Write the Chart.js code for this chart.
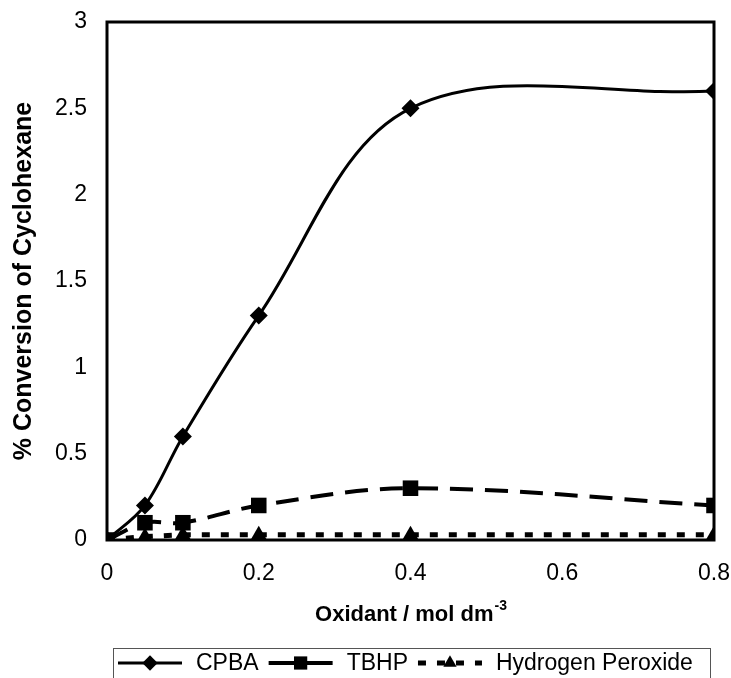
<!DOCTYPE html>
<html>
<head>
<meta charset="utf-8">
<script src="https://cdn.jsdelivr.net/npm/chart.js@4.4.1/dist/chart.umd.min.js"></script>
<style>
  html, body { margin: 0; padding: 0; background: #fff; }
  #wrap { width: 731px; height: 678px; position: relative; }
</style>
</head>
<body>
<div id="wrap"><canvas id="chart"></canvas></div>
<script>
// oxidant concentration (mol dm-3)
const oxidant = [0, 0.05, 0.1, 0.2, 0.4, 0.8];
const cpba = [0, 0.2, 0.6, 1.3, 2.5, 2.6];
const tbhp = [0, 0.1, 0.1, 0.2, 0.3, 0.2];
const peroxide = [0, 0.02, 0.03, 0.03, 0.03, 0.03];
const xTicks = [0, 0.2, 0.4, 0.6, 0.8];
const yTicks = [0, 0.5, 1, 1.5, 2, 2.5, 3];

const FONT = "'Liberation Sans', Arial, sans-serif";

function toPoints(ys) {
    return oxidant.map((x, i) => ({ x: x, y: ys[i] }));
}

const datasets = [
    { label: 'CPBA', data: toPoints(cpba), pointStyle: 'rectRot', pointRadius: 9, borderWidth: 3, borderDash: [], tension: 0.35 },
    { label: 'TBHP', data: toPoints(tbhp), pointStyle: 'rect', pointRadius: 11, borderWidth: 4, borderDash: [23, 12], tension: 0.35 },
    { label: 'Hydrogen Peroxide', data: toPoints(peroxide), pointStyle: 'triangle', pointRadius: 9, borderWidth: 5, borderDash: [8, 11], tension: 0 }
].map(d => Object.assign({
    borderColor: '#000',
    backgroundColor: '#000',
    pointBackgroundColor: '#000',
    pointBorderColor: '#000',
    pointBorderWidth: 0,
    borderCapStyle: 'butt',
    fill: false
}, d));

// black frame around the plot area
const frame = {
    id: 'frame',
    afterDatasetsDraw(chart) {
        const a = chart.chartArea, ctx = chart.ctx;
        ctx.save();
        ctx.strokeStyle = '#000';
        ctx.lineWidth = 3;
        ctx.strokeRect(a.left, a.top, a.right - a.left, a.bottom - a.top);
        ctx.restore();
    }
};

// x axis title with superscript, and the boxed legend
const extras = {
    id: 'extras',
    afterDraw(chart) {
        const ctx = chart.ctx, a = chart.chartArea;
        ctx.save();
        ctx.fillStyle = '#000';
        ctx.textBaseline = 'alphabetic';
        ctx.textAlign = 'left';
        const main = 'Oxidant / mol dm';
        ctx.font = 'bold 22px ' + FONT;
        const w1 = ctx.measureText(main).width;
        ctx.font = 'bold 14px ' + FONT;
        const w2 = ctx.measureText('-3').width;
        const x = (a.left + a.right) / 2 - (w1 + w2) / 2;
        ctx.font = 'bold 22px ' + FONT;
        ctx.fillText(main, x, 621);
        ctx.font = 'bold 14px ' + FONT;
        ctx.fillText('-3', x + w1 + 1, 610);

        // legend
        const top = 648, boxL = 113, boxR = 710;
        ctx.strokeStyle = '#555';
        ctx.lineWidth = 1;
        ctx.strokeRect(boxL + 0.5, top + 0.5, boxR - boxL, 40);
        const my = 663;
        ctx.font = '23px ' + FONT;
        ctx.textBaseline = 'middle';
        let lx = 118;
        chart.data.datasets.forEach((ds) => {
            const segW = 64;
            ctx.save();
            ctx.strokeStyle = '#000';
            ctx.lineWidth = ds.borderWidth;
            ctx.setLineDash(ds.label === 'Hydrogen Peroxide' ? [8, 11] : []);
            ctx.beginPath();
            ctx.moveTo(lx, my);
            ctx.lineTo(lx + segW, my);
            ctx.stroke();
            ctx.restore();
            Chart.helpers.drawPoint(ctx, {
                pointStyle: ds.pointStyle,
                radius: ds.pointRadius * 0.85,
                borderWidth: 0
            }, lx + segW / 2, my);
            ctx.fillText(ds.label, lx + segW + 14, my + 1);
            lx += segW + 14 + ctx.measureText(ds.label).width + 10;
        });
        ctx.restore();
    }
};

new Chart(document.getElementById('chart'), {
    type: 'line',
    data: { datasets: datasets },
    options: {
        responsive: true,
        maintainAspectRatio: false,
        animation: false,
        layout: { padding: { top: 22, right: 17, left: 0, bottom: 0 } },
        plugins: {
            legend: { display: false },
            tooltip: { enabled: false }
        },
        scales: {
            x: {
                type: 'linear',
                min: 0,
                max: 0.8,
                afterBuildTicks: s => { s.ticks = xTicks.map(v => ({ value: v })); },
                afterFit: s => {
                    s.height = 138;
                    s.paddingLeft = 0;
                    s.paddingRight = 0;
                },
                grid: { display: false, drawTicks: true, tickLength: 6, tickColor: '#999' },
                border: { display: false },
                ticks: {
                    color: '#000',
                    font: { family: FONT, size: 23 },
                    padding: 14,
                    maxRotation: 0,
                    callback: v => String(v)
                }
            },
            y: {
                min: 0,
                max: 3,
                afterBuildTicks: s => { s.ticks = yTicks.map(v => ({ value: v })); },
                afterFit: s => {
                    s.width = 107;
                    s.paddingTop = 0;
                    s.paddingBottom = 0;
                },
                grid: { display: false, drawTicks: true, tickLength: 6, tickColor: '#999' },
                border: { display: false },
                title: {
                    display: true,
                    text: '% Conversion of Cyclohexane',
                    color: '#000',
                    font: { family: FONT, size: 25, weight: 'bold' },
                    padding: { top: 9, bottom: 0 }
                },
                ticks: {
                    color: '#000',
                    font: { family: FONT, size: 23 },
                    padding: 14,
                    callback: v => String(v)
                }
            }
        }
    },
    plugins: [frame, extras]
});
</script>
</body>
</html>
